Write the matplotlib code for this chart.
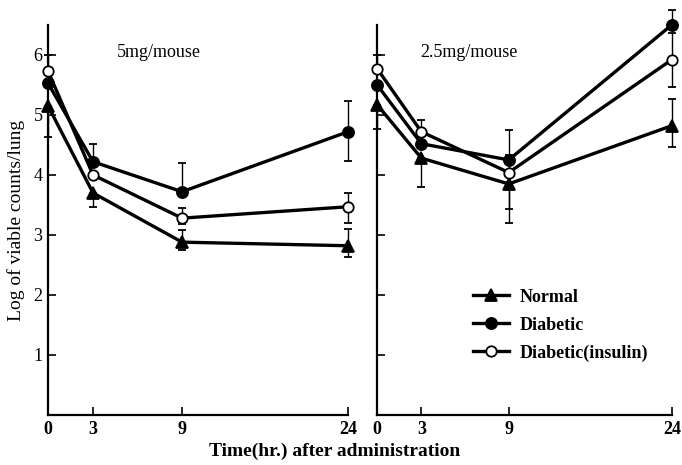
import numpy as np
import matplotlib
matplotlib.use('Agg')
import matplotlib.pyplot as plt
from matplotlib.lines import Line2D

plt.rcParams['font.family'] = ['Liberation Serif', 'DejaVu Serif']

# Time points (hr.) after administration
hours = [0, 3, 9, 24]

# 5mg/mouse panel
left_normal = [5.15, 3.70, 2.88, 2.82]
left_normal_lo = [0.52, 0.23, 0.13, 0.19]
left_normal_hi = [0.0, 0.0, 0.20, 0.28]
left_diab = [5.53, 4.22, 3.72, 4.72]
left_diab_lo = [0.0, 0.0, 0.0, 0.49]
left_diab_hi = [0.0, 0.30, 0.48, 0.51]
left_ins = [5.73, 4.00, 3.28, 3.47]
left_ins_lo = [0.0, 0.0, 0.10, 0.27]
left_ins_hi = [0.27, 0.0, 0.17, 0.23]

# 2.5mg/mouse panel
right_normal = [5.17, 4.28, 3.85, 4.82]
right_normal_lo = [0.40, 0.48, 0.65, 0.35]
right_normal_hi = [0.0, 0.0, 0.0, 0.45]
right_diab = [5.50, 4.52, 4.25, 6.50]
right_diab_lo = [0.0, 0.0, 0.0, 0.0]
right_diab_hi = [0.0, 0.0, 0.50, 0.25]
right_ins = [5.77, 4.72, 4.04, 5.92]
right_ins_lo = [0.0, 0.0, 0.60, 0.45]
right_ins_hi = [0.23, 0.20, 0.30, 0.45]

labels = ['Normal', 'Diabetic', 'Diabetic(insulin)']

# the printed time axis is not linear, map it piecewise
xp = [-100, 0, 3, 9, 24, 100]
fp = [-100, 0, 3.6, 10.72, 24, 100]


def fwd(x):
    return np.interp(x, xp, fp)


def inv(x):
    return np.interp(x, fp, xp)


fig = plt.figure(figsize=(6.82, 4.65), dpi=100)
ax1 = fig.add_axes([0.0704, 0.1075, 0.44, 0.839])
ax2 = fig.add_axes([0.553, 0.1075, 0.432, 0.839])

styles = [dict(marker='^', mfc='black', ms=8),
          dict(marker='o', mfc='black', ms=8),
          dict(marker='o', mfc='white', ms=7.5)]


def draw(ax, series, title, tx):
    for (y, lo, hi), st in zip(series, styles):
        ax.errorbar(hours, y, yerr=[lo, hi], color='black', lw=2.4,
                    ecolor='black', elinewidth=1.0, capsize=3, capthick=1.0,
                    mec='black', mew=1.3, clip_on=False, zorder=3, **st)
    ax.set_xscale('function', functions=(fwd, inv))
    ax.set_xlim(0, 24)
    ax.set_ylim(0, 6.5)
    ax.set_xticks(hours)
    ax.set_xticklabels([str(h) for h in hours], fontweight='bold', fontsize=13)
    ax.set_yticks([1, 2, 3, 4, 5, 6])
    ax.minorticks_off()
    ax.tick_params(direction='in', length=6, width=1.2, pad=4)
    for s in ['top', 'right']:
        ax.spines[s].set_visible(False)
    for s in ['left', 'bottom']:
        ax.spines[s].set_linewidth(1.6)
    ax.text(tx, 0.93, title, transform=ax.transAxes, ha='center',
            va='center', fontsize=13)


draw(ax1, [(left_normal, left_normal_lo, left_normal_hi),
           (left_diab, left_diab_lo, left_diab_hi),
           (left_ins, left_ins_lo, left_ins_hi)], '5mg/mouse', 0.37)
draw(ax2, [(right_normal, right_normal_lo, right_normal_hi),
           (right_diab, right_diab_lo, right_diab_hi),
           (right_ins, right_ins_lo, right_ins_hi)], '2.5mg/mouse', 0.31)

ax1.set_yticklabels(['1', '2', '3', '4', '5', '6'], fontsize=13)
ax2.set_yticklabels([])
ax1.set_ylabel('Log of viable counts/lung', fontsize=14, labelpad=6)

handles = [Line2D([], [], color='black', lw=2.4, mec='black', mew=1.3, **st)
           for st in styles]
leg = ax2.legend(handles, labels, loc='center left',
                 bbox_to_anchor=(0.27, 0.23), frameon=False, handlelength=2.0,
                 handletextpad=0.6, labelspacing=0.6,
                 prop=dict(weight='bold', size=13))

fig.text(0.49, 0.03, 'Time(hr.) after administration', ha='center',
         va='center', fontsize=14, fontweight='bold')

fig.savefig('out.png', dpi=100)
